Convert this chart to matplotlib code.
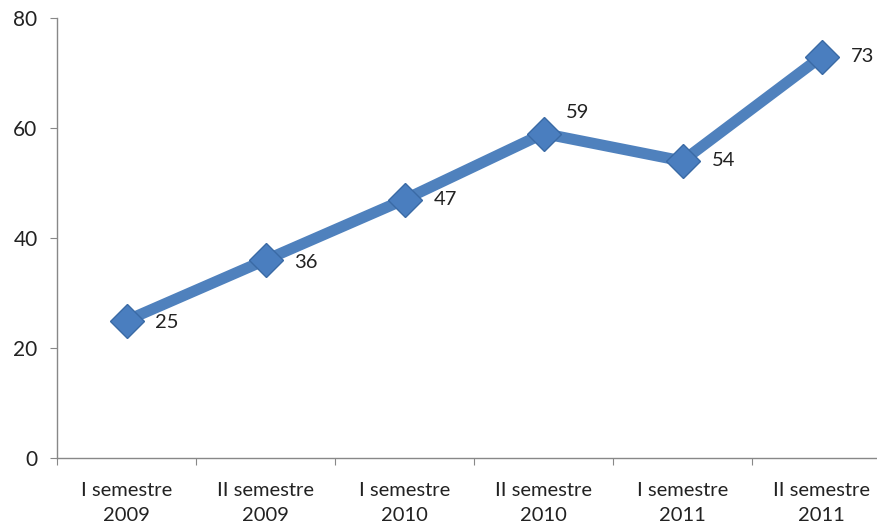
import matplotlib
matplotlib.use("Agg")
import matplotlib.pyplot as plt

categories = ["I semestre\n2009", "II semestre\n2009", "I semestre\n2010",
              "II semestre\n2010", "I semestre\n2011", "II semestre\n2011"]
values = [25, 36, 47, 59, 54, 73]
yticks = [0, 20, 40, 60, 80]

plt.rcParams['font.family'] = ['Lato', 'DejaVu Sans']

W, H = 878, 525
fig = plt.figure(figsize=(W / 100, H / 100), dpi=100)
ax = fig.add_axes([57 / W, (H - 458) / H, 834 / W, 440 / H])

x = list(range(len(values)))
ax.plot(x, values, color="#4F81BD", lw=8, solid_capstyle="round", zorder=2)
ax.plot(x, values, ls="none", marker="D", markersize=17,
        markerfacecolor="#4A7EBF", markeredgecolor="#3A6AA5", markeredgewidth=1, zorder=3)

offsets = [(29, -2), (29, -2), (29, 0), (22, 21), (29, 0), (29, 0)]
for xi, v, off in zip(x, values, offsets):
    ax.annotate(str(v), (xi, v), xytext=off, textcoords="offset pixels",
                ha="left", va="center", fontsize=14.5, color="#222222")

ax.set_xlim(-0.5, len(values) - 0.5)
ax.set_ylim(0, 80)
ax.set_yticks(yticks)
ax.set_xticks([i - 0.5 for i in range(len(values) + 1)], minor=False)
ax.set_xticklabels([])
ax.set_xticks(x, minor=True)
ax.set_xticklabels(categories, minor=True, fontsize=14.5, color="#222222", linespacing=1.6)
ax.tick_params(axis="x", which="minor", length=0, pad=17)
ax.tick_params(axis="x", which="major", length=5, direction="out", color="#888888")
ax.tick_params(axis="y", length=5, direction="out", color="#888888", labelsize=15,
               labelcolor="#222222", pad=9)

for s in ["top", "right"]:
    ax.spines[s].set_visible(False)
for s in ["left", "bottom"]:
    ax.spines[s].set_color("#888888")
    ax.spines[s].set_linewidth(1)

fig.savefig("out.png", dpi=100)
